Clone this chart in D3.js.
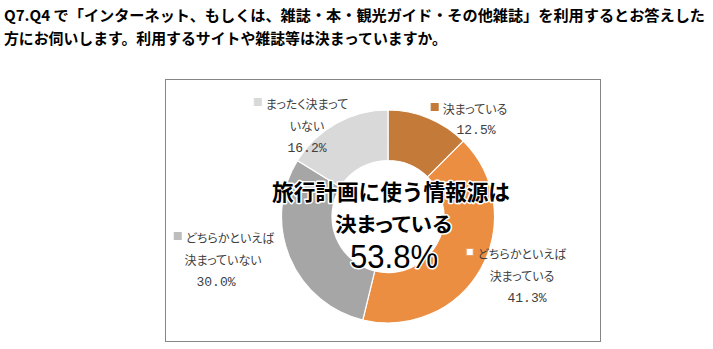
<!DOCTYPE html>
<html>
<head>
<meta charset="utf-8">
<script src="https://cdn.jsdelivr.net/npm/d3@7"></script>
<style>
  html, body { margin: 0; padding: 0; background: #fff; }
  svg { display: block; }
  .jp { font-family: "Noto Sans CJK JP", "Noto Sans", sans-serif; }
</style>
</head>
<body>
<svg id="chart" width="713" height="349"></svg>
<script>
// Survey answers, clockwise from 12 o'clock
const categories = ["決まっている", "どちらかといえば決まっている", "どちらかといえば決まっていない", "まったく決まっていない"];
const values = [12.5, 41.3, 30.0, 16.2];
const labelLines = [
  ["決まっている"],
  ["どちらかといえば", "決まっている"],
  ["どちらかといえば", "決まっていない"],
  ["まったく決まって", "いない"]
];
const titleLines = [
  "Q7.Q4 で「インターネット、もしくは、雑誌・本・観光ガイド・その他雑誌」を利用するとお答えした",
  "方にお伺いします。利用するサイトや雑誌等は決まっていますか。"
];
const centerLines = ["旅行計画に使う情報源は", "決まっている"];
const centerValue = 53.8;

const colors = ["#C47A38", "#EC8E41", "#A6A6A6", "#D9D9D9"];
const keyFill = ["#C47A38", "#FFFFFF", "#BDBDBD", "#D9D9D9"];
const keyStroke = ["#C47A38", "#E9A066", "#BDBDBD", "#D9D9D9"];

// label placement: centre x of each text line, y of first line
const labelPos = [
  { xs: [475, 476], y: 108 },
  { xs: [522, 522, 527], y: 253 },
  { xs: [230, 223, 216], y: 237 },
  { xs: [307, 307, 307], y: 103 }
];

const svg = d3.select("#chart");

// title
svg.selectAll("text.title")
  .data(titleLines)
  .join("text")
  .attr("class", "title jp")
  .attr("x", 4)
  .attr("y", (d, i) => 14 + i * 23)
  .attr("dominant-baseline", "central")
  .attr("font-size", 15)
  .attr("font-weight", "bold")
  .attr("fill", "#000")
  .attr("textLength", (d, i) => i === 0 ? 701 : 443)
  .attr("lengthAdjust", "spacingAndGlyphs")
  .text(d => d);

// chart frame
svg.append("rect")
  .attr("x", 165.5).attr("y", 79.5)
  .attr("width", 435).attr("height", 262)
  .attr("fill", "#fff")
  .attr("stroke", "#868686")
  .attr("stroke-width", 1);

const cx = 388, cy = 216.5, rOuter = 106.5, rInner = 56;
const pie = d3.pie().sort(null).value(d => d)(values);
const arc = d3.arc().innerRadius(rInner).outerRadius(rOuter);

const g = svg.append("g").attr("transform", `translate(${cx},${cy})`);
g.selectAll("path")
  .data(pie)
  .join("path")
  .attr("d", arc)
  .attr("fill", (d, i) => colors[i])
  .attr("stroke", "#fff")
  .attr("stroke-width", 1.2);

// data labels with legend keys
const fmt = d3.format(".1f");
pie.forEach((p, i) => {
  const pos = labelPos[i];
  const lines = labelLines[i].concat([fmt(values[i]) + "%"]);
  lines.forEach((line, j) => {
    const isPct = j === lines.length - 1;
    const t = svg.append("text")
      .attr("class", isPct ? "" : "jp")
      .attr("x", pos.xs[j])
      .attr("y", pos.y + j * 22.5)
      .attr("text-anchor", "middle")
      .attr("dominant-baseline", "central")
      .attr("font-size", isPct ? 13 : 12)
      .attr("fill", "#404040")
      .style("font-family", isPct ? "'Liberation Mono', 'DejaVu Sans Mono', monospace" : null)
      .style("font-feature-settings", isPct ? null : "'palt'")
      .text(line);
    if (j === 0) {
      const bb = t.node().getBBox();
      svg.append("rect")
        .attr("x", bb.x - 11.5)
        .attr("y", pos.y - 4.5)
        .attr("width", 7).attr("height", 7)
        .attr("fill", keyFill[i])
        .attr("stroke", keyStroke[i])
        .attr("stroke-width", 1);
    }
  });
});

// headline in the centre of the ring
const halo = sel => sel
  .attr("stroke", "#fff")
  .attr("stroke-width", 3)
  .attr("stroke-linejoin", "round")
  .attr("paint-order", "stroke")
  .attr("fill", "#000");

svg.append("text")
  .attr("class", "jp")
  .attr("x", 391).attr("y", 190)
  .attr("text-anchor", "middle")
  .attr("dominant-baseline", "central")
  .attr("font-size", 22).attr("font-weight", "bold")
  .attr("textLength", 238).attr("lengthAdjust", "spacingAndGlyphs")
  .call(halo)
  .text(centerLines[0]);

svg.append("text")
  .attr("class", "jp")
  .attr("x", 393.5).attr("y", 223.5)
  .attr("text-anchor", "middle")
  .attr("dominant-baseline", "central")
  .attr("font-size", 20).attr("font-weight", "bold")
  .attr("textLength", 117).attr("lengthAdjust", "spacingAndGlyphs")
  .style("font-feature-settings", "'palt'")
  .call(halo)
  .text(centerLines[1]);

svg.append("text")
  .attr("x", 394).attr("y", 267.5)
  .attr("text-anchor", "middle")
  .attr("font-size", 33)
  .style("font-family", "'Liberation Sans', Arial, sans-serif")
  .attr("textLength", 88).attr("lengthAdjust", "spacingAndGlyphs")
  .call(halo)
  .text(fmt(centerValue) + "%");
</script>
</body>
</html>
